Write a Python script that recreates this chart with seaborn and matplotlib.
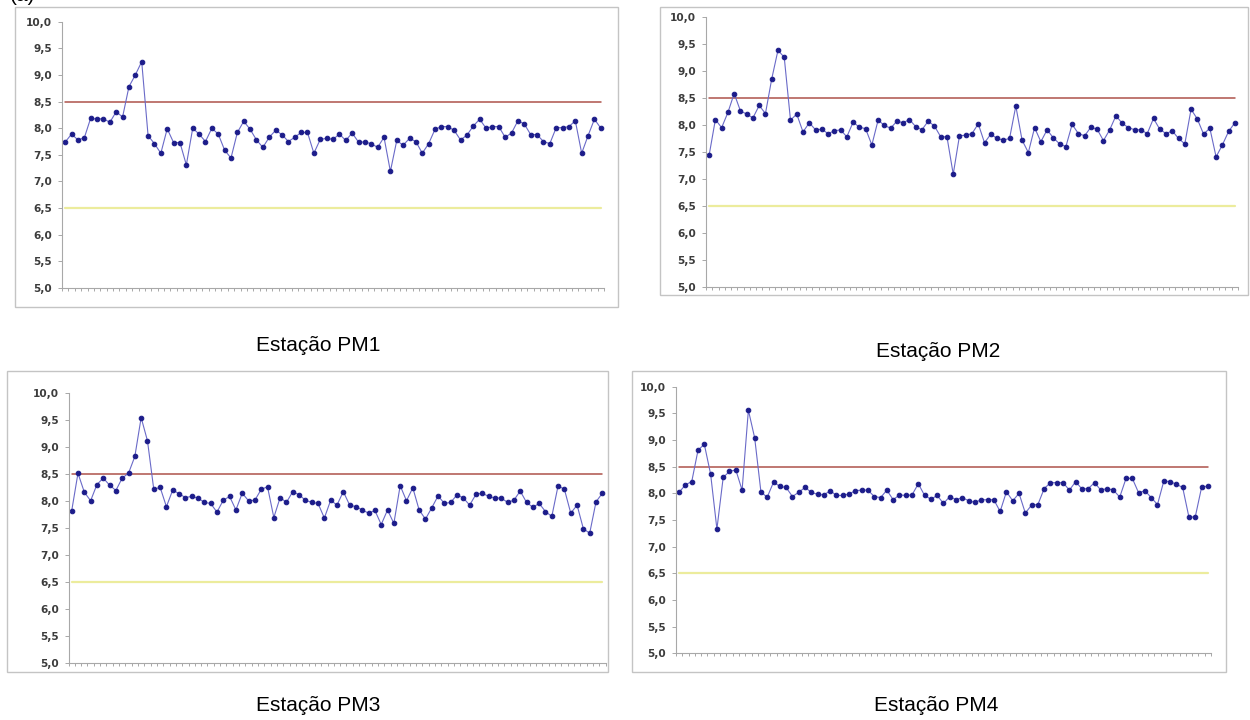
import matplotlib
matplotlib.use("Agg")
import numpy as np
import pandas as pd
import seaborn as sns
import matplotlib.pyplot as plt
from matplotlib.patches import Rectangle
from matplotlib.ticker import FuncFormatter

# ---------------- data ----------------
stations = ["Estação PM1", "Estação PM2", "Estação PM3", "Estação PM4"]
upper_limit = 8.5
lower_limit = 6.5
y_ticks = [5.0, 5.5, 6.0, 6.5, 7.0, 7.5, 8.0, 8.5, 9.0, 9.5, 10.0]

pm1 = [7.74, 7.89, 7.78, 7.82, 8.19, 8.17, 8.18, 8.11, 8.31, 8.21,
       8.78, 9.00, 9.25, 7.86, 7.71, 7.53, 7.99, 7.73, 7.73, 7.31,
       8.00, 7.89, 7.75, 8.00, 7.89, 7.59, 7.44, 7.92, 8.13, 7.98,
       7.78, 7.64, 7.83, 7.96, 7.88, 7.75, 7.83, 7.92, 7.92, 7.53,
       7.79, 7.81, 7.79, 7.89, 7.77, 7.91, 7.74, 7.74, 7.71, 7.64,
       7.83, 7.19, 7.77, 7.68, 7.81, 7.75, 7.53, 7.71, 7.98, 8.03,
       8.03, 7.96, 7.78, 7.87, 8.04, 8.17, 8.00, 8.03, 8.03, 7.83,
       7.91, 8.14, 8.08, 7.88, 7.88, 7.75, 7.71, 8.01, 8.01, 8.03,
       8.14, 7.53, 7.86, 8.17, 8.00]

pm2 = [7.44, 8.10, 7.95, 8.23, 8.58, 8.26, 8.20, 8.13, 8.36, 8.21,
       8.85, 9.38, 9.25, 8.09, 8.20, 7.87, 8.04, 7.91, 7.92, 7.84,
       7.89, 7.91, 7.78, 8.05, 7.96, 7.93, 7.63, 8.09, 7.99, 7.94,
       8.07, 8.04, 8.10, 7.97, 7.91, 8.07, 7.98, 7.78, 7.78, 7.09,
       7.80, 7.81, 7.84, 8.02, 7.67, 7.83, 7.75, 7.72, 7.75, 8.35,
       7.72, 7.49, 7.95, 7.69, 7.91, 7.76, 7.65, 7.60, 8.01, 7.84,
       7.80, 7.96, 7.92, 7.71, 7.91, 8.17, 8.03, 7.95, 7.91, 7.91,
       7.84, 8.12, 7.92, 7.84, 7.89, 7.75, 7.65, 8.29, 8.11, 7.83,
       7.94, 7.41, 7.63, 7.88, 8.04]

pm3 = [7.82, 8.52, 8.17, 8.01, 8.31, 8.43, 8.30, 8.20, 8.43, 8.52,
       8.83, 9.55, 9.12, 8.22, 8.26, 7.90, 8.21, 8.14, 8.07, 8.09,
       8.06, 7.98, 7.96, 7.80, 8.02, 8.09, 7.84, 8.15, 8.01, 8.02,
       8.22, 8.27, 7.70, 8.07, 7.98, 8.18, 8.12, 8.02, 7.98, 7.96,
       7.69, 8.02, 7.93, 8.18, 7.93, 7.90, 7.84, 7.78, 7.83, 7.57,
       7.84, 7.59, 8.29, 8.01, 8.25, 7.84, 7.67, 7.88, 8.10, 7.96,
       7.98, 8.12, 8.06, 7.93, 8.13, 8.15, 8.09, 8.06, 8.06, 7.98,
       8.02, 8.19, 7.98, 7.89, 7.96, 7.81, 7.72, 8.29, 8.22, 7.78,
       7.93, 7.49, 7.41, 7.99, 8.15]

pm4 = [8.02, 8.16, 8.22, 8.81, 8.92, 8.36, 7.33, 8.30, 8.41, 8.44,
       8.06, 9.56, 9.04, 8.02, 7.93, 8.21, 8.13, 8.11, 7.94, 8.02,
       8.11, 8.02, 7.98, 7.97, 8.05, 7.96, 7.96, 7.99, 8.05, 8.06,
       8.06, 7.94, 7.92, 8.06, 7.88, 7.97, 7.96, 7.97, 8.18, 7.96,
       7.89, 7.96, 7.81, 7.94, 7.88, 7.92, 7.86, 7.83, 7.88, 7.88,
       7.88, 7.66, 8.03, 7.86, 8.00, 7.63, 7.78, 7.79, 8.09, 8.20,
       8.20, 8.20, 8.06, 8.22, 8.08, 8.09, 8.20, 8.06, 8.09, 8.06,
       7.93, 8.28, 8.28, 8.01, 8.05, 7.92, 7.79, 8.23, 8.22, 8.17,
       8.11, 7.55, 7.56, 8.11, 8.14]

series = [pm1, pm2, pm3, pm4]

# ---------------- style ----------------
sns.set_theme(style="white")
plt.rcParams["font.family"] = ["Liberation Sans", "DejaVu Sans"]

W, H = 1250, 720
fig = plt.figure(figsize=(W / 100, H / 100), dpi=100)
fig.patch.set_facecolor("white")

# layout in pixels: frame (x0, y0, x1, y1), axes (left, right, top, bottom), title (x centre, baseline y)
layout = [
    ((15, 7, 618, 307), (62, 604, 21.7, 288.0), (318, 351)),
    ((660, 7, 1248, 295), (706, 1238, 16.7, 287.3), (938, 357)),
    ((7, 371, 608, 672), (68.5, 605.5, 393.3, 663.3), (318, 711)),
    ((632, 371, 1226, 672), (676, 1211, 386.7, 653.3), (936, 711)),
]

line_col = "#6a6ac8"
mark_col = "#1c1c8a"
red_col = "#ad524a"
yel_col = "#ecec9c"
axis_col = "#a8a8a8"

comma = FuncFormatter(lambda v, p: f"{v:.1f}".replace(".", ","))

for name, vals, (frame, axpos, tpos) in zip(stations, series, layout):
    x0, y0, x1, y1 = frame
    fig.add_artist(Rectangle((x0 / W, 1 - y1 / H), (x1 - x0) / W, (y1 - y0) / H,
                             transform=fig.transFigure, fill=False,
                             edgecolor="#c4c4c4", linewidth=1.0))
    l, r, t, b = axpos
    ax = fig.add_axes([l / W, 1 - b / H, (r - l) / W, (b - t) / H])
    ax.set_facecolor("none")

    n = len(vals)
    df = pd.DataFrame({"i": np.arange(n), "pH": vals,
                       "upper": [upper_limit] * n, "lower": [lower_limit] * n})

    sns.lineplot(data=df, x="i", y="upper", ax=ax, color=red_col, linewidth=1.1)
    sns.lineplot(data=df, x="i", y="lower", ax=ax, color=yel_col, linewidth=1.6)
    sns.lineplot(data=df, x="i", y="pH", ax=ax, color=line_col, linewidth=0.8,
                 marker="o", markersize=3.3, markerfacecolor=mark_col,
                 markeredgecolor=mark_col)

    ax.set_xlim(-0.5, n - 0.5)
    ax.set_ylim(5, 10)
    ax.set_yticks(y_ticks)
    ax.yaxis.set_major_formatter(comma)
    ax.set_xticks(np.arange(-0.5, n, 1.0))
    ax.set_xticklabels([])
    ax.set_xlabel("")
    ax.set_ylabel("")
    ax.grid(False)
    for s in ("top", "right"):
        ax.spines[s].set_visible(False)
    for s in ("left", "bottom"):
        ax.spines[s].set_color(axis_col)
        ax.spines[s].set_linewidth(0.8)
    ax.tick_params(axis="x", bottom=True, length=2.5, width=0.7, color=axis_col, direction="out")
    ax.tick_params(axis="y", left=True, length=3, width=0.7, color=axis_col, direction="out",
                   labelsize=7.6, labelcolor="#3c3c3c", pad=4.0)
    for lab in ax.get_yticklabels():
        lab.set_fontweight("bold")
        lab.set_family("DejaVu Sans")

    fig.text(tpos[0] / W, 1 - tpos[1] / H, name, ha="center", va="baseline",
             fontsize=15, color="black")

fig.text(10 / W, 1 - 1 / H, "(a)", ha="left", va="baseline", fontsize=15, color="black")

fig.savefig("out.png", dpi=100, facecolor="white")
